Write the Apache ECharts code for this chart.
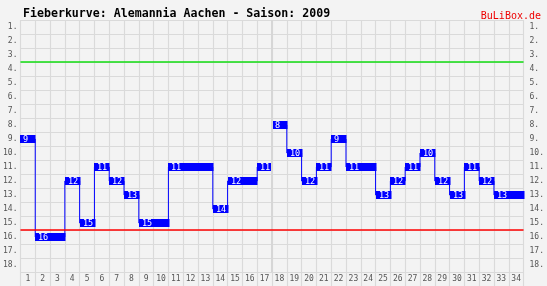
<!DOCTYPE html>
<html><head><meta charset="utf-8">
<script src="https://cdn.jsdelivr.net/npm/echarts@6/dist/echarts.min.js"></script>
<style>html,body{margin:0;padding:0;background:#f3f3f3}#c{width:547px;height:286px}</style>
</head><body><div id="c"></div>
<script>
var matchdays = ['1','2','3','4','5','6','7','8','9','10','11','12','13','14','15','16','17','18','19','20','21','22','23','24','25','26','27','28','29','30','31','32','33','34'];
var positions = [9,16,16,12,15,11,12,13,15,15,11,11,11,14,12,12,11,8,10,12,11,9,11,11,13,12,11,10,12,13,11,12,13,13];
var yTickLabels = ['1.','2.','3.','4.','5.','6.','7.','8.','9.','10.','11.','12.','13.','14.','15.','16.','17.','18.'];
var greenLine = 3.5;
var redLine = 15.5;
var midSeason = 17;

var mono = 'DejaVu Sans Mono';
var chart = echarts.init(document.getElementById('c'));
var lblStyle = {color:'#555', fontFamily:mono, fontSize:8};
var gridColor = '#dadada';
chart.setOption({
  backgroundColor:'#f3f3f3',
  animation:false,
  title:[
    {text:'Fieberkurve: Alemannia Aachen - Saison: 2009', left:18, top:3,
     textStyle:{fontFamily:mono, fontSize:11.6, fontWeight:'bold', color:'#000'}},
    {text:'BuLiBox.de', right:1, top:6, textStyle:{fontFamily:mono, fontSize:10, fontWeight:'normal', color:'#ee0000'}}
  ],
  grid:{left:20, right:17, top:20, bottom:14},
  xAxis:[
    {type:'category', data:matchdays, boundaryGap:true,
     axisLine:{show:false},
     axisTick:{show:true, length:14, lineStyle:{color:gridColor, width:1.2}, interval:0},
     axisLabel:Object.assign({margin:3, interval:0}, lblStyle),
     splitLine:{show:true, interval:0, lineStyle:{color:gridColor, width:1.2}}},
    {type:'value', min:0, max:34, show:false}
  ],
  yAxis:[
    {type:'category', data:yTickLabels, inverse:true, position:'left', boundaryGap:true,
     axisLine:{show:false}, axisTick:{show:false},
     axisLabel:Object.assign({margin:3, interval:0}, lblStyle),
     splitLine:{show:true, interval:0, lineStyle:{color:gridColor, width:1.2}}},
    {type:'category', data:yTickLabels, inverse:true, position:'right', boundaryGap:true,
     axisLine:{show:false}, axisTick:{show:false},
     axisLabel:Object.assign({margin:6, interval:0}, lblStyle),
     splitLine:{show:false}},
    {type:'value', min:0.5, max:18.5, inverse:true, show:false}
  ],
  series:[
    {type:'line', xAxisIndex:1, yAxisIndex:2, data:[], symbol:'none', silent:true,
     markLine:{silent:true, symbol:'none', label:{show:false},
       lineStyle:{color:'#d6d6d6', width:2, type:'solid'},
       data:[{xAxis:midSeason}]}},
    {type:'line', xAxisIndex:0, yAxisIndex:2, step:'middle', symbol:'none',
     lineStyle:{color:'#0000ff', width:1}, data:positions, z:3,
     markLine:{silent:true, symbol:'none', label:{show:false},
       data:[{yAxis:greenLine, lineStyle:{color:'#11dd11', width:1.5, type:'solid'}},
             {yAxis:redLine, lineStyle:{color:'#ff0000', width:1.5, type:'solid'}}]}},
    {type:'custom', xAxisIndex:0, yAxisIndex:2, z:4,
     data:positions.map(function(v,i){return [i, v];}),
     renderItem:function(params, api){
       var i = params.dataIndex;
       var p = api.coord([api.value(0), api.value(1)]);
       var w = api.size([1,0])[0];
       var x0 = Math.round(p[0]-w/2);
       var ch = [{type:'rect', shape:{x:x0, y:Math.round(p[1])-4, width:Math.round(w)+0.5, height:8}, style:{fill:'#0000ff'}}];
       if (i===0 || positions[i]!==positions[i-1]) {
         ch.push({type:'text', style:{text:String(positions[i]), x:x0+3, y:Math.round(p[1])+0.5, verticalAlign:'middle', align:'left', fill:'#ffffff', font:'8.5px '+mono}});
       }
       return {type:'group', children:ch};
     }}
  ]
});
</script></body></html>
